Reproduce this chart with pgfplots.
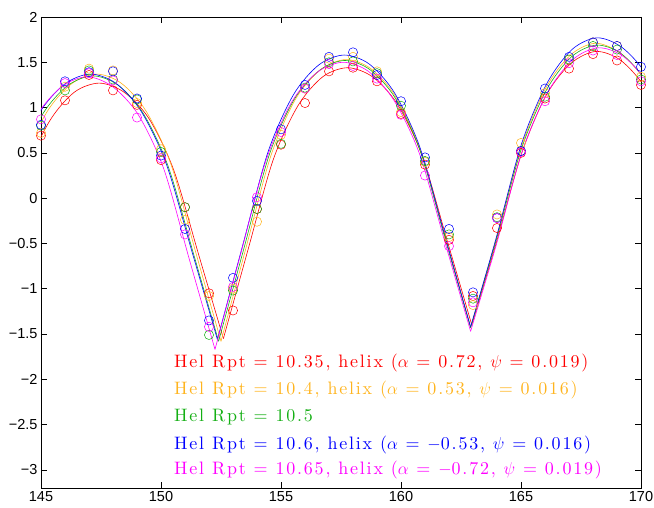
\documentclass[border=0pt]{standalone}
\usepackage{fontspec}
\usepackage{pgfplots}
\usepackage{pgfplotstable}
\pgfplotsset{compat=1.18}
\newfontfamily\tickfont{Liberation Sans}
\newfontfamily\annfont{lmroman10-regular.otf}[LetterSpace=10]
\definecolor{mred}{RGB}{255,0,0}
\definecolor{morange}{RGB}{255,180,30}
\definecolor{mgreen}{RGB}{20,175,20}
\definecolor{mblue}{RGB}{0,0,255}
\definecolor{mmag}{RGB}{255,0,255}

\pgfplotstableread{
x r o g b m
145 0.69 0.72 0.80 0.81 0.87
146 1.08 1.23 1.19 1.29 1.27
147 1.36 1.43 1.41 1.39 1.38
148 1.19 1.41 1.31 1.40 1.30
149 1.03 1.05 1.09 1.10 0.89
150 0.42 0.54 0.51 0.47 0.44
151 -0.10 -0.24 -0.10 -0.34 -0.40
152 -1.05 -1.08 -1.51 -1.35 -1.42
153 -1.24 -1.00 -1.02 -0.88 -0.98
154 -0.12 -0.26 -0.12 -0.03 0.01
155 0.59 0.70 0.60 0.76 0.73
156 1.05 1.21 1.22 1.25 1.21
157 1.40 1.54 1.50 1.56 1.48
158 1.44 1.56 1.51 1.61 1.46
159 1.29 1.40 1.38 1.36 1.32
160 0.93 0.95 1.02 1.07 0.92
161 0.37 0.40 0.41 0.45 0.25
162 -0.46 -0.43 -0.40 -0.34 -0.53
163 -1.08 -1.18 -1.11 -1.04 -1.15
164 -0.33 -0.18 -0.21 -0.22 -0.22
165 0.50 0.61 0.52 0.52 0.51
166 1.10 1.16 1.12 1.21 1.07
167 1.43 1.53 1.53 1.56 1.49
168 1.59 1.72 1.68 1.72 1.63
169 1.52 1.68 1.64 1.68 1.58
170 1.25 1.34 1.31 1.45 1.29
}\pts

\begin{document}
\begin{tikzpicture}
\begin{axis}[
  scale only axis,
  width=600pt, height=471pt,
  xmin=145, xmax=170, ymin=-3.2, ymax=2,
  xtick={145,150,...,170},
  ytick={-3,-2.5,...,2},
  yticklabels={\textminus3,\textminus2.5,\textminus2,\textminus1.5,\textminus1,\textminus0.5,0,0.5,1,1.5,2},
  tick align=inside,
  major tick length=6pt,
  axis line style={line width=0.5pt},
  every tick/.style={line width=0.5pt, black},
  tick label style={font=\fontsize{14.5}{14.5}\selectfont\tickfont},
  /pgf/number format/assume math mode=true,
  clip mode=individual,
  cv/.style={smooth, no markers, line width=0.6pt},
  pt/.style={only marks, mark=o, mark size=4.6pt, mark options={line width=0.5pt}},
]
% curves: red
\addplot[cv, mred] coordinates {(142.25,-1.70) (143.285,-0.72) (144.32,0.26) (145.355,0.85) (146.39,1.17) (147.425,1.27) (148.46,1.17) (149.495,0.88) (150.53,0.31) (151.565,-0.62) (152.6,-1.55)};
\addplot[cv, mred] coordinates {(152.6,-1.55) (153.635,-0.56) (154.67,0.42) (155.705,1.02) (156.74,1.34) (157.775,1.44) (158.81,1.34) (159.845,1.04) (160.88,0.47) (161.915,-0.46) (162.95,-1.40)};
\addplot[cv, mred] coordinates {(162.95,-1.40) (163.985,-0.48) (165.02,0.49) (166.055,1.14) (167.09,1.49) (168.125,1.62) (169.16,1.52) (170.195,1.21) (171.23,0.63)};
% orange
\addplot[cv, morange] coordinates {(142.1,-1.70) (143.14,-0.69) (144.18,0.33) (145.22,0.94) (146.26,1.26) (147.3,1.37) (148.34,1.27) (149.38,0.96) (150.42,0.37) (151.46,-0.61) (152.5,-1.58)};
\addplot[cv, morange] coordinates {(152.5,-1.58) (153.54,-0.55) (154.58,0.47) (155.62,1.10) (156.66,1.42) (157.7,1.53) (158.74,1.43) (159.78,1.12) (160.82,0.52) (161.86,-0.45) (162.9,-1.43)};
\addplot[cv, morange] coordinates {(162.9,-1.43) (163.94,-0.47) (164.98,0.54) (166.02,1.21) (167.06,1.58) (168.1,1.71) (169.14,1.60) (170.18,1.29) (171.22,0.69)};
% green
\addplot[cv, mgreen] coordinates {(141.9,-1.72) (142.95,-0.71) (144.0,0.31) (145.05,0.92) (146.1,1.24) (147.15,1.35) (148.2,1.25) (149.25,0.94) (150.3,0.35) (151.35,-0.61) (152.4,-1.58)};
\addplot[cv, mgreen] coordinates {(152.4,-1.58) (153.45,-0.56) (154.5,0.47) (155.55,1.09) (156.6,1.41) (157.65,1.52) (158.7,1.42) (159.75,1.11) (160.8,0.52) (161.85,-0.46) (162.9,-1.43)};
\addplot[cv, mgreen] coordinates {(162.9,-1.43) (163.95,-0.48) (165.0,0.53) (166.05,1.19) (167.1,1.56) (168.15,1.69) (169.2,1.59) (170.25,1.27) (171.3,0.67)};
% blue
\addplot[cv, mblue] coordinates {(141.75,-1.68) (142.81,-0.67) (143.87,0.33) (144.93,0.94) (145.99,1.26) (147.05,1.37) (148.11,1.27) (149.17,0.96) (150.23,0.37) (151.29,-0.59) (152.35,-1.56)};
\addplot[cv, mblue] coordinates {(152.35,-1.56) (153.405,-0.52) (154.46,0.51) (155.515,1.14) (156.57,1.47) (157.625,1.58) (158.68,1.48) (159.735,1.16) (160.79,0.56) (161.845,-0.43) (162.9,-1.42)};
\addplot[cv, mblue] coordinates {(162.9,-1.42) (163.955,-0.45) (165.01,0.59) (166.065,1.26) (167.12,1.64) (168.175,1.77) (169.23,1.66) (170.285,1.34) (171.34,0.73)};
% magenta
\addplot[cv, mmag] coordinates {(141.6,-1.80) (142.665,-0.76) (143.73,0.27) (144.795,0.90) (145.86,1.23) (146.925,1.34) (147.99,1.23) (149.055,0.92) (150.12,0.32) (151.185,-0.68) (152.25,-1.67)};
\addplot[cv, mmag] coordinates {(152.25,-1.67) (153.315,-0.62) (154.38,0.42) (155.445,1.06) (156.51,1.39) (157.575,1.50) (158.64,1.40) (159.705,1.08) (160.77,0.49) (161.835,-0.49) (162.9,-1.47)};
\addplot[cv, mmag] coordinates {(162.9,-1.47) (163.965,-0.52) (165.03,0.50) (166.095,1.16) (167.16,1.53) (168.225,1.66) (169.29,1.56) (170.355,1.24) (171.42,0.66)};
% data points
\addplot[pt, mred] table[x=x, y=r] {\pts};
\addplot[pt, morange] table[x=x, y=o] {\pts};
\addplot[pt, mgreen] table[x=x, y=g] {\pts};
\addplot[pt, mblue] table[x=x, y=b] {\pts};
\addplot[pt, mmag] table[x=x, y=m] {\pts};
% annotations
\begin{scope}[every node/.style={anchor=west, inner sep=0pt, font=\fontsize{18}{22}\selectfont\annfont}]
\node[text=mred] at (axis cs:150.54,-1.82) {Hel Rpt = 10.35, helix ($\alpha$ = 0.72, $\psi$ = 0.019)};
\node[text=morange] at (axis cs:150.54,-2.12) {Hel Rpt = 10.4, helix ($\alpha$ = 0.53, $\psi$ = 0.016)};
\node[text=mgreen] at (axis cs:150.54,-2.42) {Hel Rpt = 10.5};
\node[text=mblue] at (axis cs:150.54,-2.72) {Hel Rpt = 10.6, helix ($\alpha$ = $-$0.53, $\psi$ = 0.016)};
\node[text=mmag] at (axis cs:150.54,-3.00) {Hel Rpt = 10.65, helix ($\alpha$ = $-$0.72, $\psi$ = 0.019)};
\end{scope}
\end{axis}
\pgfresetboundingbox
\path ([shift={(-41pt,-20pt)}]current axis.south west) rectangle ([shift={(13pt,17pt)}]current axis.north east);
\end{tikzpicture}
\end{document}
